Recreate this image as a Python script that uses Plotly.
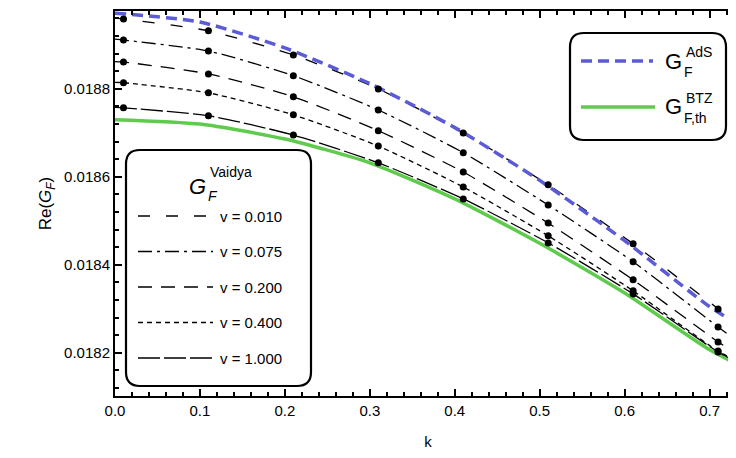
import plotly.graph_objects as go

k_dots = [0.01, 0.11, 0.21, 0.31, 0.41, 0.51, 0.61, 0.71]
v_labels = ["v = 0.010", "v = 0.075", "v = 0.200", "v = 0.400", "v = 1.000"]
vaidya = [
    [0.018959, 0.018932, 0.018877, 0.018800, 0.018700, 0.018582, 0.018448, 0.018300],
    [0.018911, 0.018886, 0.018830, 0.018752, 0.018655, 0.018536, 0.018407, 0.018259],
    [0.018861, 0.018834, 0.018782, 0.018705, 0.018611, 0.018495, 0.018366, 0.018225],
    [0.018814, 0.018791, 0.018741, 0.018670, 0.018577, 0.018466, 0.018341, 0.018204],
    [0.018757, 0.018739, 0.018695, 0.018632, 0.018550, 0.018450, 0.018334, 0.018202],
]
k_start = 0.0
k_end = 0.737
vaidya_start = [0.018961, 0.018913, 0.018862, 0.018815, 0.018758]
vaidya_end = [0.018258, 0.018220, 0.018192, 0.018178, 0.018175]

k_ref = [0.0, 0.1, 0.2, 0.3, 0.4, 0.5, 0.6, 0.7, 0.737]
ads = [0.018972, 0.018952, 0.018893, 0.018812, 0.018712, 0.018592, 0.018455, 0.018305, 0.018261]
btz = [0.018730, 0.018720, 0.018686, 0.018632, 0.018550, 0.018449, 0.018336, 0.018207, 0.018170]

dashes = ["12px,16px", "14px,5px,3px,5px", "14px,9px", "5px,4px", "22px,4px"]

fig = go.Figure()
fig.add_trace(go.Scatter(x=k_ref, y=btz, mode="lines", line=dict(color="#5ecb4c", width=3.5, shape="spline", smoothing=0.6)))
for i in range(5):
    xs = [k_start] + k_dots + [k_end]
    ys = [vaidya_start[i]] + vaidya[i] + [vaidya_end[i]]
    fig.add_trace(go.Scatter(x=xs, y=ys, mode="lines",
                             line=dict(color="black", width=1.3, dash=dashes[i], shape="spline", smoothing=0.6)))
fig.add_trace(go.Scatter(x=k_ref, y=ads, mode="lines", line=dict(color="#5b5bd6", width=3.5, dash="11px,6px", shape="spline", smoothing=0.6)))
for i in range(5):
    fig.add_trace(go.Scatter(x=k_dots, y=vaidya[i], mode="markers", marker=dict(color="black", size=7)))

L, R, T, B = 107, 733, 3, 388
def px(x): return (x - L) / (R - L)
def py(y): return (B - y) / (B - T)

def rbox(x0, y0, x1, y1, r=14):
    X0, X1, Y0, Y1 = px(x0), px(x1), py(y0), py(y1)
    rx, ry = r / (R - L), r / (B - T)
    path = (f"M {X0+rx},{Y0} L {X1-rx},{Y0} Q {X1},{Y0} {X1},{Y0-ry} L {X1},{Y1+ry} "
            f"Q {X1},{Y1} {X1-rx},{Y1} L {X0+rx},{Y1} Q {X0},{Y1} {X0},{Y1+ry} L {X0},{Y0-ry} Q {X0},{Y0} {X0+rx},{Y0} Z")
    fig.add_shape(type="path", path=path, xref="paper", yref="paper",
                  line=dict(color="black", width=2.2), fillcolor="white", layer="above")

font = dict(family="Liberation Sans, Arial", size=15, color="black")

def ann(x, y, text, size, xanchor="left"):
    fig.add_annotation(x=px(x), y=py(y), xref="paper", yref="paper", text=text, showarrow=False,
                       font=dict(family="Liberation Sans, Arial", size=size, color="black"),
                       xanchor=xanchor, yanchor="middle")

rbox(118, 142, 303, 378)
ann(200, 178, "<i>G</i>", 22, "right")
ann(200, 164, "Vaidya", 14)
ann(198, 188, "<i>F</i>", 14)
for i in range(5):
    yy = 208 + i * 35.5
    fig.add_shape(type="line", xref="paper", yref="paper", x0=px(130), x1=px(205), y0=py(yy), y1=py(yy),
                  line=dict(color="black", width=1.3, dash=dashes[i]), layer="above")
    ann(210, yy, v_labels[i], 15)

rbox(562, 25, 718, 132)
fig.add_shape(type="line", xref="paper", yref="paper", x0=px(573), x1=px(645), y0=py(53), y1=py(53),
              line=dict(color="#5b5bd6", width=3.5, dash="11px,6px"), layer="above")
fig.add_shape(type="line", xref="paper", yref="paper", x0=px(573), x1=px(647), y0=py(99), y1=py(99),
              line=dict(color="#5ecb4c", width=3.5), layer="above")
for yy, sup, sub in [(53, "AdS", "F"), (99, "BTZ", "F,th")]:
    ann(676, yy, "G", 22, "right")
    ann(676, yy - 9, sup, 14)
    ann(674, yy + 11, sub, 14)

axis = dict(showline=True, linecolor="black", linewidth=2, mirror="ticks", ticks="inside", ticklen=7,
            tickwidth=1.5, tickcolor="black", showgrid=False, zeroline=False, tickfont=font, automargin=False)
fig.update_xaxes(**axis, range=[0, k_end], dtick=0.1, tickformat=".1f",
                 minor=dict(ticks="inside", ticklen=4, dtick=0.02, tickcolor="black"),
                 title=dict(text="k", font=font, standoff=18))
fig.update_yaxes(**axis, range=[0.018102, 0.018977], dtick=0.0002, tick0=0.0182, tickformat=".4f",
                 minor=dict(ticks="inside", ticklen=4, dtick=0.00004, tickcolor="black"),
                 title=dict(text="Re(<i>G</i><sub><i>F</i></sub>)", font=dict(family="Liberation Sans, Arial", size=17, color="black"), standoff=8))
fig.update_layout(width=736, height=458, margin=dict(l=L, r=736 - R, t=T, b=458 - B),
                  plot_bgcolor="white", paper_bgcolor="white", showlegend=False)
fig.write_html("out.html")
